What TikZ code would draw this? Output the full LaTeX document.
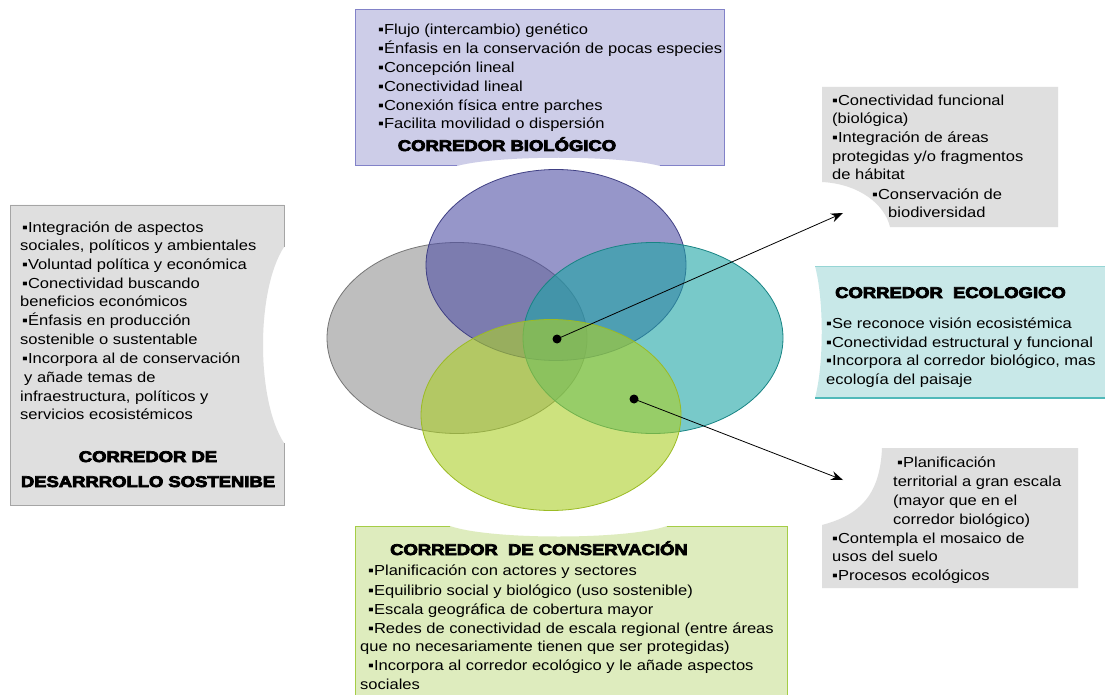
\documentclass[tikz,border=0pt]{standalone}
\usepackage{fontspec}
\setmainfont{Liberation Sans}[FakeStretch=1.14]
\newfontfamily\heavy{Liberation Sans}[UprightFeatures={FakeBold=4.5}, BoldFeatures={FakeBold=4.5}]
\usetikzlibrary{arrows.meta,shapes.geometric}
\newcommand\bul{▪}
\newcommand\widettl[1]{\scalebox{1.19}[1]{#1}}
\definecolor{topfill}{RGB}{205,205,232}
\definecolor{topline}{RGB}{130,130,200}
\definecolor{grayfill}{RGB}{223,223,223}
\definecolor{grayline}{RGB}{165,165,165}
\definecolor{ecofill}{RGB}{200,232,232}
\definecolor{ecoline}{RGB}{80,185,185}
\definecolor{confill}{RGB}{222,236,190}
\definecolor{conline}{RGB}{165,205,70}
\definecolor{vblue}{RGB}{80,80,165}
\definecolor{vgray}{RGB}{148,148,148}
\definecolor{vteal}{RGB}{30,165,165}
\definecolor{vgreen}{RGB}{172,208,40}
\tikzset{
  ln/.style={anchor=base west, inner sep=0pt, font=\fontsize{14.5}{17}\selectfont},
  ttl/.style={anchor=base, inner sep=0pt, font=\heavy\bfseries\fontsize{15.5}{18}\selectfont},
  venn/.style={ellipse, minimum width=260pt, minimum height=191pt, inner sep=0pt, fill opacity=0.6, line width=0.8pt},
  dot/.style={circle, fill=black, minimum size=9pt, inner sep=0pt},
  arr/.style={line width=0.8pt, -{Stealth[length=12pt,width=9pt]}}
}
\begin{document}
\begin{tikzpicture}[x=1pt,y=-1pt]
\useasboundingbox (0,0) rectangle (1105,695);
\fill[white] (0,0) rectangle (1105,695);
% --- boxes ---
% top box (biologico)
\fill[topfill] (355,10) -- (724,10) -- (724,166) -- (660,166) .. controls (620,155) and (497,155) .. (457,166) -- (355,166) -- cycle;
\draw[topline, line width=1pt] (457,166) -- (355,166) -- (355,10) -- (724,10) -- (724,166) -- (660,166);
% left box (desarrollo sostenible)
\fill[grayfill] (10,205) -- (284,205) -- (284,247) .. controls (256,290) and (256,400) .. (284,443) -- (284,505) -- (10,505) -- cycle;
\draw[grayline, line width=0.8pt] (284,247) -- (284,205) -- (10,205) -- (10,505) -- (284,505) -- (284,443);
% top-right gray box
\fill[grayfill] (822,87) -- (1058,87) -- (1058,227) -- (890,227) .. controls (885,205) and (860,184) .. (822,182) -- cycle;
% ecologico box
\fill[ecofill] (815,266) -- (1106,266) -- (1106,398) -- (815,398) .. controls (824,364) and (824,300) .. (815,266) -- cycle;
\draw[ecoline!60, line width=0.8pt] (815,266) -- (1106,266);
\draw[ecoline, line width=1.2pt] (815,398) -- (1106,398);
% bottom-right gray box
\fill[grayfill] (882,448) -- (1078,448) -- (1078,588) -- (822,588) -- (822,525) .. controls (860,515) and (880,495) .. (882,448) -- cycle;
% conservacion box
\fill[confill] (355,526) -- (450,526) .. controls (490,540) and (627,540) .. (667,526) -- (787,526) -- (787,700) -- (355,700) -- cycle;
\draw[conline, line width=1pt] (450,526) -- (355,526) -- (355,700);
\draw[conline, line width=1pt] (667,526) -- (787,526) -- (787,700);
% --- Venn ---
\node[venn, fill=vgray, draw=vgray!80!black] (des) at (457,338) {};
\node[venn, fill=vblue, draw=vblue!80!black] (bio) at (556,265) {};
\node[venn, fill=vteal, draw=vteal!80!black] (eco) at (653,338) {};
\node[venn, fill=vgreen, draw=vgreen!90!black] (con) at (551,415) {};
% --- dots and arrows ---
\node[dot] (p1) at (557,339) {};
\node[dot] (p2) at (634,399) {};
\coordinate (a1) at (843,213);
\coordinate (a2) at (843,480);
\draw[arr] (p1.center) -- (a1);
\draw[arr] (p2.center) -- (a2);
% --- texts: top box ---
\foreach \yy/\tx in {35/{\bul Flujo (intercambio) genético},
  54/{\bul Énfasis en la conservación de pocas especies},
  73/{\bul Concepción lineal},
  92/{\bul Conectividad lineal},
  111/{\bul Conexión física entre parches},
  129/{\bul Facilita movilidad o dispersión}}
  \node[ln] (tb\yy) at (378,\yy) {\tx};
\node[ttl] (tbt) at (507,151) {\widettl{CORREDOR BIOLÓGICO}};
% left box
\foreach \yy/\xx/\tx in {232/22/{\bul Integración de aspectos},
  250/20/{sociales, políticos y ambientales},
  269/22/{\bul Voluntad política y económica},
  288/22/{\bul Conectividad buscando},
  306/20/{beneficios económicos},
  325/22/{\bul Énfasis en producción},
  344/20/{sostenible o sustentable},
  363/22/{\bul Incorpora al de conservación},
  382/24/{y añade temas de},
  401/20/{infraestructura, políticos y},
  419/20/{servicios ecosistémicos}}
  \node[ln] (lb\yy) at (\xx,\yy) {\tx};
\node[ttl] (lbt1) at (148,462) {\widettl{CORREDOR DE}};
\node[ttl] (lbt2) at (148,487) {\widettl{DESARRROLLO SOSTENIBE}};
% top-right box
\foreach \yy/\xx/\tx in {106/832/{\bul Conectividad funcional},
  124/832/{(biológica)},
  143/832/{\bul Integración de áreas},
  162/832/{protegidas y/o fragmentos},
  180/832/{de hábitat},
  200/872/{\bul Conservación de},
  218/888/{biodiversidad}}
  \node[ln] (tr\yy) at (\xx,\yy) {\tx};
% ecologico box
\node[ttl, anchor=base west] (ect) at (835,298) {\widettl{CORREDOR\ \ ECOLOGICO}};
\foreach \yy/\tx in {328/{\bul Se reconoce visión ecosistémica},
  347/{\bul Conectividad estructural y funcional},
  365/{\bul Incorpora al corredor biológico, mas},
  384/{ecología del paisaje}}
  \node[ln] (ec\yy) at (826,\yy) {\tx};
% bottom-right box
\foreach \yy/\xx/\tx in {467/897/{\bul Planificación},
  486/893/{territorial a gran escala},
  505/893/{(mayor que en el},
  524/893/{corredor biológico)},
  543/832/{\bul Contempla el mosaico de},
  561/832/{usos del suelo},
  580/832/{\bul Procesos ecológicos}}
  \node[ln] (br\yy) at (\xx,\yy) {\tx};
% conservacion box
\node[ttl, anchor=base west] (cot) at (390,555) {\widettl{CORREDOR\ \ DE CONSERVACIÓN}};
\foreach \yy/\xx/\tx in {575/368/{\bul Planificación con actores y sectores},
  595/368/{\bul Equilibrio social y biológico (uso sostenible)},
  614/368/{\bul Escala geográfica de cobertura mayor},
  633/368/{\bul Redes de conectividad de escala regional (entre áreas},
  651/360/{que no necesariamente tienen que ser protegidas)},
  670/368/{\bul Incorpora al corredor ecológico y le añade aspectos},
  689/360/{sociales}}
  \node[ln] (co\yy) at (\xx,\yy) {\tx};
\end{tikzpicture}
\end{document}
